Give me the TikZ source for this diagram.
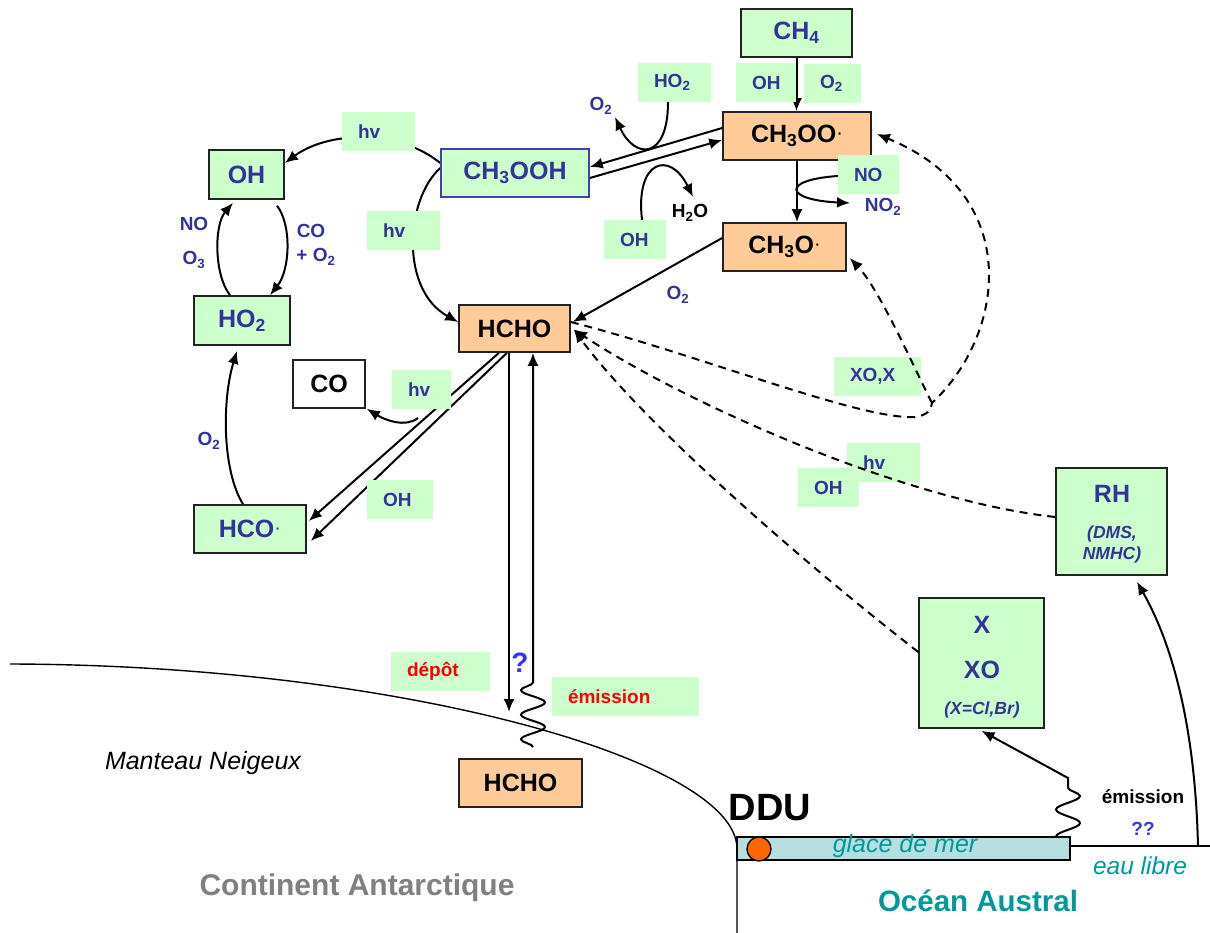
\documentclass[tikz,border=0pt]{standalone}
\usepackage{fontspec}
\setmainfont{Liberation Sans}
\usetikzlibrary{arrows.meta,decorations.pathmorphing}
\definecolor{tblue}{HTML}{333399}
\definecolor{lgreen}{HTML}{CCFFCC}
\definecolor{lorange}{HTML}{FFCC99}
\definecolor{bdr}{HTML}{222222}
\definecolor{bblue}{HTML}{4040B0}
\definecolor{icecol}{HTML}{B7DEE0}
\definecolor{dduorange}{HTML}{FF6600}
\definecolor{teal}{HTML}{009999}
\definecolor{greytxt}{HTML}{808080}
\definecolor{qblue}{HTML}{3333FF}
\newcommand{\myBox}{\fontsize{25}{29}\selectfont\bfseries}
\newcommand{\myLbl}{\fontsize{19}{23}\selectfont\bfseries}
\newcommand{\myIt}{\fontsize{17.5}{20}\selectfont\bfseries\itshape}
\newcommand{\rdot}{{\mdseries\fontsize{20}{22}\selectfont\raisebox{3.5pt}{·}}}
\pgfdeclarelayer{back}
\pgfsetlayers{back,main}
\begin{document}
\begin{tikzpicture}[x=1pt,y=-1pt,
  box/.style={draw=bdr, line width=1.6pt, inner sep=0pt, font=\myBox, text=black},
  gbox/.style={box, fill=lgreen, text=tblue},
  obox/.style={box, fill=lorange, text=black},
  lbl/.style={fill=lgreen, inner xsep=16pt, inner ysep=0pt, align=left, font=\myLbl, text=tblue, minimum height=39pt},
  txt/.style={font=\myLbl, text=tblue, inner sep=0pt},
  arr/.style={line width=2pt, -{Latex[length=13pt,width=11pt]}},
  dsh/.style={arr, dash pattern=on 8pt off 6pt},
  ground/.style={line width=1.4pt}]
\useasboundingbox (0,0) rectangle (1210,933);

% boxes
\node[gbox, minimum width=111pt, minimum height=48pt] (ch4) at (796.5,33) {CH\textsubscript{4}};
\node[obox, minimum width=148pt, minimum height=48pt] (ch3oo) at (797,136) {CH\textsubscript{3}OO\rdot};
\node[obox, minimum width=123pt, minimum height=48pt] (ch3o) at (784.5,247) {CH\textsubscript{3}O\rdot};
\node[gbox, draw=bblue, minimum width=148pt, minimum height=48pt] (ch3ooh) at (515,173) {CH\textsubscript{3}OOH};
\node[gbox, minimum width=75pt, minimum height=49pt] (ohbox) at (246.5,174.5) {OH};
\node[gbox, minimum width=96pt, minimum height=49pt] (ho2box) at (242,320.5) {HO\textsubscript{2}};
\node[obox, minimum width=111pt, minimum height=47pt] (hcho) at (514.5,328.5) {HCHO};
\node[box, fill=white, minimum width=72pt, minimum height=48pt] (co) at (329,384) {CO};
\node[gbox, minimum width=112pt, minimum height=48pt] (hco) at (250,529) {HCO\rdot};
\node[gbox, minimum width=111pt, minimum height=107pt] (rh) at (1111.5,521.5) {};
\node[gbox, minimum width=125pt, minimum height=130pt] (xxo) at (981.5,663) {};
\node[obox, minimum width=123pt, minimum height=48pt] (hchob) at (520.5,783) {HCHO};

\node[txt, font=\myBox] (trh) at (1112,494) {RH};
\node[txt, font=\myIt] (tdms) at (1112,534) {(DMS,};
\node[txt, font=\myIt] (tnmhc) at (1112,555) {NMHC)};
\node[txt, font=\myBox] (tx) at (982,625) {X};
\node[txt, font=\myBox] (txo) at (982,670) {XO};
\node[txt, font=\myIt] (txcl) at (982,710) {(X=Cl,Br)};

% labels
\node[lbl, text width=28pt] (lOHa) at (766,83) {OH};
\node[lbl, text width=25pt] (lO2a) at (832.5,83.5) {O\textsubscript{2}};
\node[lbl, text width=41pt] (lHO2) at (674.5,82.5) {HO\textsubscript{2}};
\node[lbl, text width=29pt] (lNO) at (868.5,174.5) {NO};
\node[lbl, text width=41pt] (lhva) at (378.5,131.5) {hv};
\node[lbl, text width=41pt] (lhvb) at (403.5,230.5) {hv};
\node[lbl, text width=30pt] (lOHb) at (635,239.5) {OH};
\node[lbl, text width=27pt] (lhvc) at (421.5,389.5) {hv};
\node[lbl, text width=34pt] (lOHc) at (400,499.5) {OH};
\node[lbl, text width=55pt] (lXOX) at (877.5,376.5) {XO,X};
\node[lbl, text width=41pt] (lhvd) at (883.5,462.5) {hv};
\node[lbl, text width=29pt] (lOHd) at (828.5,487.5) {OH};
\node[lbl, text width=67pt, text=red] (ldep) at (440.5,671.5) {dépôt};
\node[lbl, text width=115pt, text=red] (lemi) at (625.5,696.5) {émission};

% sea ice and DDU
\node[draw=black, line width=1.3pt, fill=icecol, minimum width=333pt, minimum height=23pt, inner sep=0pt] (ice) at (903.5,848.5) {};
\node[circle, draw=black, line width=1.3pt, fill=dduorange, minimum size=24pt, inner sep=0pt] (ddu) at (759,849) {};
\node[inner sep=0pt, font=\fontsize{25}{29}\selectfont\itshape, text=teal] (glace) at (905,846) {glace de mer};

% coordinates
\coordinate (snowL) at (10,664);
\coordinate (snowB) at (737,933);
\coordinate (oceanR) at (1210,846);
\coordinate (o2tip) at (615,117);
\coordinate (h2otip) at (693,197);
\coordinate (no2tip) at (850,203);
\coordinate (hvco) at (418,418);
\coordinate (dep) at (509,712);
\coordinate (esrc) at (533,747);
\coordinate (etop) at (533,673);
\coordinate (xsrc) at (1068,845);
\coordinate (xtop) at (1068,778);
\coordinate (rhsrc) at (1198,846);
\coordinate (jct) at (932,403);

\begin{pgfonlayer}{back}
% ground
\draw[ground] (snowL) .. controls (400,665) and (735,760) .. (737,848) -- (snowB);
\draw[ground] ([yshift=2.5pt]ice.east) -- (oceanR);
% solid connectors
\draw[arr] (ch4.south) -- (ch4.south |- ch3oo.north);
\draw[arr] (ch3oo.south) -- (ch3oo.south |- ch3o.north);
\draw[arr] ([yshift=-1.5pt]lNO.west) .. controls (780,180) and (785,200) .. (no2tip);
\draw[arr] ([yshift=8pt]ch3oo.west) -- ([yshift=6pt]ch3ooh.east);
\draw[arr] ([yshift=-5pt]ch3ooh.east) -- ([yshift=-4pt]ch3oo.west);
\draw[arr] ([xshift=-6.5pt]lHO2.south) .. controls (668,160) and (635,160) .. (o2tip);
\draw[arr] ([xshift=7pt]lOHb.north) .. controls (635,160) and (670,150) .. (h2otip);
\draw[arr] ([yshift=9pt]ch3o.west) -- ([xshift=2pt,yshift=6.5pt]hcho.east);
\draw[arr] ([yshift=10pt]ch3ooh.west) .. controls (400,130) and (330,130) .. ([yshift=11.5pt]ohbox.east);
\draw[arr] ([yshift=5pt]ch3ooh.west) .. controls (405,200) and (400,290) .. ([yshift=6.5pt]hcho.west);
\draw[arr] ([xshift=30.5pt,yshift=-6pt]ohbox.south) .. controls (292,225) and (290,270) .. ([xshift=28pt]ho2box.north);
\draw[arr] ([xshift=-12pt]ho2box.north) .. controls (214,275) and (214,225) .. ([xshift=-13.5pt,yshift=-3pt]ohbox.south);
\draw[arr] ([xshift=-7pt]hco.north) .. controls (222,470) and (222,400) .. ([xshift=-5pt,yshift=-5pt]ho2box.south);
\draw[arr] ([xshift=-15.5pt]hcho.south) -- ([xshift=2pt,yshift=8pt]hco.east);
\draw[arr] ([xshift=-7.5pt]hcho.south) -- ([xshift=4pt,yshift=-12pt]hco.east);
\draw[arr] (hvco) .. controls (405,428) and (385,420) .. ([xshift=1pt]co.south east);
\draw[arr] ([xshift=-5.5pt]hcho.south) -- (dep);
\draw[arr] decorate[decoration={snake, segment length=24.6pt, amplitude=12pt}] {(esrc) -- (etop)} -- (etop |- hcho.south);
\draw[arr] decorate[decoration={snake, segment length=27pt, amplitude=12pt}] {(xsrc) -- (xtop)} -- ([yshift=-2pt]xxo.south);
\draw[arr] (rhsrc) .. controls (1195,720) and (1170,640) .. ([xshift=25.5pt,yshift=-6pt]rh.south);
\end{pgfonlayer}

% dashed connectors
\draw[dsh] ([yshift=6.5pt]hcho.east) .. controls (700,355) and (860,420) .. (915,417) .. controls (928,415) and (931,410) .. (jct) .. controls (1005,335) and (1025,195) .. ([xshift=5pt,yshift=2pt]ch3oo.east);
\draw[dsh] (jct) .. controls (915,370) and (880,290) .. ([xshift=3pt,yshift=-11pt]ch3o.east);
\draw[dsh] ([yshift=4.5pt]rh.west) .. controls (900,500) and (680,400) .. ([xshift=3pt,yshift=-1pt]hcho.east);
\draw[dsh] ([yshift=11pt]xxo.west) .. controls (800,560) and (640,420) .. ([xshift=3pt,yshift=-1pt]hcho.east);

% plain texts
\node[txt] (o2a) at (601,106) {O\textsubscript{2}};
\node[txt, text=black] (h2o) at (690,213) {H\textsubscript{2}O};
\node[txt] (no2) at (883,207) {NO\textsubscript{2}};
\node[txt] (o2b) at (678,295) {O\textsubscript{2}};
\node[txt] (tno) at (194,224) {NO};
\node[txt] (to3) at (194,260) {O\textsubscript{3}};
\node[txt] (tco) at (311,231) {CO};
\node[txt] (to2c) at (316,257) {+ O\textsubscript{2}};
\node[txt] (o2d) at (209,441) {O\textsubscript{2}};
\node[txt, font=\fontsize{28}{32}\selectfont\bfseries, text=qblue] (qm) at (520,663) {?};
\node[txt, text=black] (emi2) at (1143,797) {émission};
\node[txt, text=qblue] (qq) at (1143,829) {??};
\node[inner sep=0pt, font=\fontsize{25}{30}\selectfont\itshape] (mant) at (203,763) {Manteau Neigeux};
\node[inner sep=0pt, font=\fontsize{30}{35}\selectfont\bfseries, text=greytxt] (cont) at (357,888) {Continent Antarctique};
\node[inner sep=0pt, font=\fontsize{38}{44}\selectfont\bfseries] (dduT) at (770,808) {DDU};
\node[inner sep=0pt, font=\fontsize{24.5}{28}\selectfont\itshape, text=teal] (eau) at (1140,866) {eau libre};
\node[inner sep=0pt, font=\fontsize{29.5}{34}\selectfont\bfseries, text=teal] (ocean) at (978,901) {Océan Austral};
\end{tikzpicture}
\end{document}
